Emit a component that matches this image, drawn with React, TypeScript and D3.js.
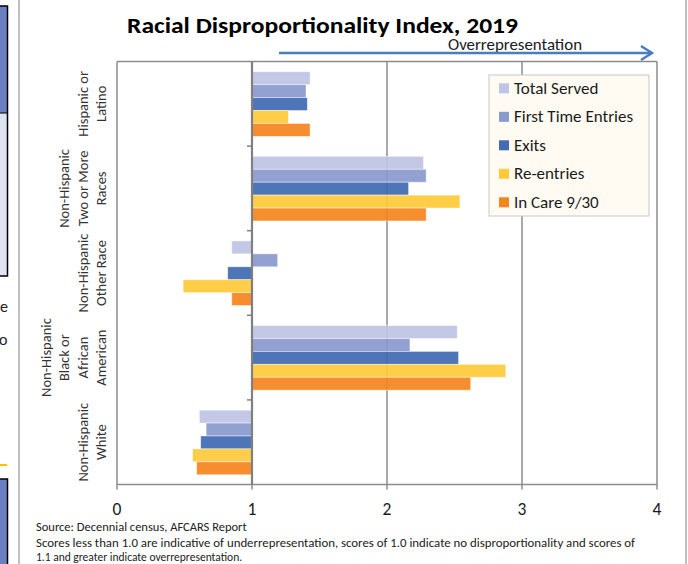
import React from "react";
import * as d3 from "d3";

const categories = [
  "Hispanic or Latino",
  "Non-Hispanic Two or More Races",
  "Non-Hispanic Other Race",
  "Non-Hispanic Black or African American",
  "Non-Hispanic White",
];
const categoryLines = [
  ["Hispanic or", "Latino"],
  ["Non-Hispanic", "Two or More", "Races"],
  ["Non-Hispanic", "Other Race"],
  ["Non-Hispanic", "Black or", "African", "American"],
  ["Non-Hispanic", "White"],
];
const seriesNames = ["Total Served", "First Time Entries", "Exits", "Re-entries", "In Care 9/30"];
const seriesColors = ["#BDC4E4", "#8A9ACD", "#416BB3", "#FFCA3A", "#F58520"];
const totalServed = [1.43, 2.27, 0.85, 2.52, 0.61];
const firstTimeEntries = [1.40, 2.29, 1.19, 2.17, 0.66];
const exits = [1.41, 2.16, 0.82, 2.53, 0.62];
const reEntries = [1.27, 2.54, 0.49, 2.88, 0.56];
const inCare = [1.43, 2.29, 0.85, 2.62, 0.59];
const seriesValues = [totalServed, firstTimeEntries, exits, reEntries, inCare];
const xTicks = [0, 1, 2, 3, 4];

const FONT = "Carlito, Calibri, Lato, sans-serif";

export default function App() {
  const W = 688, H = 564;
  const left = 117, right = 657, top = 61.5, bottom = 484.5;
  const x = d3.scaleLinear().domain([0, 4]).range([left, right]);
  const y = d3.scaleBand<string>().domain(categories).range([top, bottom]);
  const bw = y.bandwidth();
  const inner = d3.scaleBand<string>().domain(seriesNames).range([bw * 0.121, bw * 0.885]);
  const grid = "#8C8C8C";

  return (
    <svg width={W} height={H} style={{ position: "absolute", left: 0, top: 0, background: "#fff" }} fontFamily={FONT}>
      {/* page fragments */}
      <line x1={19} x2={19} y1={0} y2={H} stroke="#ABABAB" strokeWidth={1.5} />
      <line x1={686} x2={686} y1={0} y2={H} stroke="#ABABAB" strokeWidth={1.5} />
      <rect x={-3} y={6} width={10.5} height={107} fill="#6A80C2" />
      <rect x={-3} y={113} width={10.5} height={163} fill="#DEE2F1" />
      <line x1={-3} x2={7.5} y1={113} y2={113} stroke="#000" strokeWidth={1} />
      <rect x={-3} y={6} width={10.5} height={270} fill="none" stroke="#000" strokeWidth={1.5} />
      <text x={0} y={312} fontSize={16} fill="#222">e</text>
      <text x={-1} y={345} fontSize={16} fill="#222">o</text>
      <line x1={0} x2={7} y1={465} y2={465} stroke="#FFC000" strokeWidth={2} />
      <rect x={-3} y={479} width={10.5} height={100} fill="#6A80C2" stroke="#000" strokeWidth={1.5} />

      {/* title */}
      <text x={127} y={33} fontSize={22} fontWeight="bold" fill="#000" textLength={391} lengthAdjust="spacingAndGlyphs">
        Racial Disproportionality Index, 2019
      </text>
      <text x={515} y={50} fontSize={15.5} textAnchor="middle" fill="#1a1a1a" textLength={134} lengthAdjust="spacingAndGlyphs">Overrepresentation</text>
      <line x1={279} x2={652} y1={53} y2={53} stroke="#4A7CC0" strokeWidth={2.5} />
      <polyline points="641,46 652,53 641,60" fill="none" stroke="#4A7CC0" strokeWidth={2.5} />

      {/* plot frame and gridlines */}
      {xTicks.map((t) => (
        <line key={"g" + t} x1={x(t)} x2={x(t)} y1={top} y2={bottom + 5} stroke={grid} strokeWidth={1.5} />
      ))}
      <line x1={left} x2={right} y1={top} y2={top} stroke={grid} strokeWidth={1.5} />
      <line x1={left} x2={right} y1={bottom} y2={bottom} stroke={grid} strokeWidth={1.5} />

      {/* bars */}
      {categories.map((c, ci) => (
        <g key={c} transform={`translate(0,${y(c)})`}>
          {seriesNames.map((s, si) => {
            const v = seriesValues[si][ci];
            const x0 = Math.min(x(1), x(v));
            const w = Math.abs(x(v) - x(1));
            return (
              <rect key={s} x={x0} y={inner(s)} width={w} height={inner.bandwidth()}
                fill={seriesColors[si]} fillOpacity={0.93} stroke="#fff" strokeOpacity={0.55} strokeWidth={0.8} />
            );
          })}
        </g>
      ))}

      {/* category axis at x=1 */}
      <line x1={x(1)} x2={x(1)} y1={top} y2={bottom} stroke="#808080" strokeWidth={2.2} />
      {categories.slice(1).map((c) => (
        <line key={"t" + c} x1={x(1) - 5} x2={x(1)} y1={y(c)} y2={y(c)} stroke="#808080" strokeWidth={1.5} />
      ))}

      {/* x tick labels */}
      {xTicks.map((t) => (
        <text key={"l" + t} x={x(t)} y={509} fontSize={17.5} textAnchor="middle" dominantBaseline="central" fill="#1a1a1a">
          {t}
        </text>
      ))}

      {/* y labels */}
      {categories.map((c, ci) => {
        const lines = categoryLines[ci];
        const cy = (y(c) as number) + bw / 2;
        return (
          <g key={"y" + c}>
            {lines.map((ln, li) => {
              const lx = 101 - 18.5 * (lines.length - 1 - li);
              return (
                <text key={ln + li} transform={`translate(${lx},${cy}) rotate(-90)`} fontSize={14.5}
                  textAnchor="middle" dominantBaseline="central" fill="#333">
                  {ln}
                </text>
              );
            })}
          </g>
        );
      })}

      {/* legend */}
      <rect x={489} y={75} width={160} height={141} fill="#FFFAF2" stroke="#C8C8C8" strokeWidth={1} />
      {seriesNames.map((s, si) => {
        const cy = 88.3 + si * 28.5;
        return (
          <g key={"lg" + s}>
            <rect x={499} y={cy - 5} width={10} height={10} fill={seriesColors[si]} />
            <text x={514} y={cy} fontSize={17} dominantBaseline="central" fill="#1a1a1a">{s}</text>
          </g>
        );
      })}

      {/* footer */}
      <text x={36} y={531} fontSize={12.5} fill="#222">Source: Decennial census, AFCARS Report</text>
      <text x={36} y={546.5} fontSize={12} fill="#222" textLength={599} lengthAdjust="spacingAndGlyphs">
        Scores less than 1.0 are indicative of underrepresentation, scores of 1.0 indicate no disproportionality and scores of
      </text>
      <text x={36} y={561} fontSize={11.5} fill="#222">1.1 and greater indicate overrepresentation.</text>
    </svg>
  );
}
